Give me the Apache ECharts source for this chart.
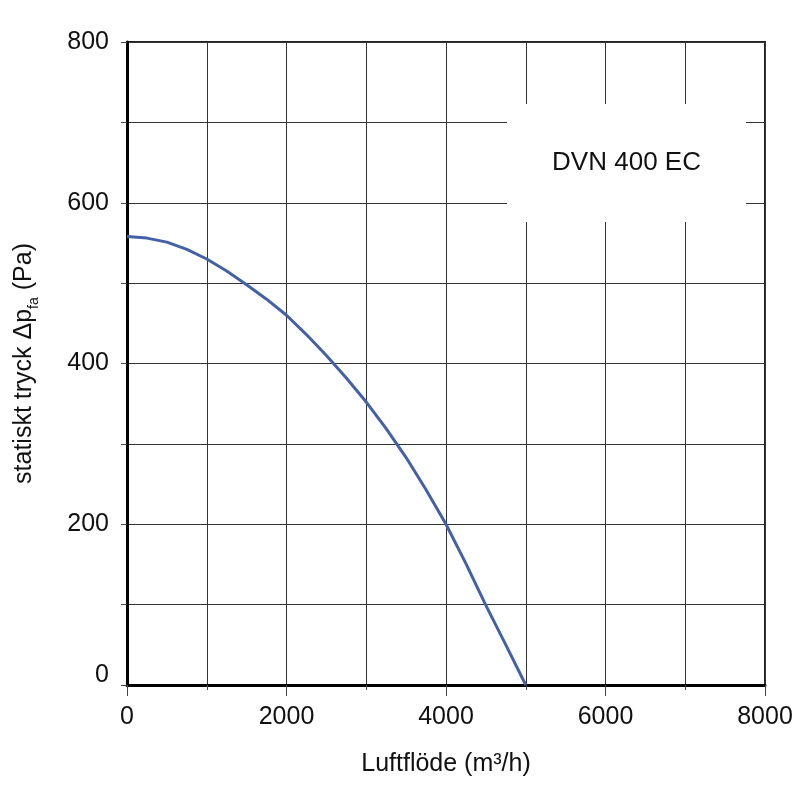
<!DOCTYPE html>
<html>
<head>
    <meta charset="utf-8">
    <style type="text/css">
        *, html, body { margin: 0; padding: 0; }
        html, body, #container { width: 800px; height: 800px; background: #fff; }
    </style>
    <script type="text/javascript" src="https://cdn.jsdelivr.net/npm/echarts@6/dist/echarts.min.js"></script>
</head>
<body>
<div id="container"></div>
<script type="text/javascript">
    // fan curve
    let flow = [0, 250, 500, 750, 1000, 1250, 1500, 1750, 2000, 2250, 2500,
                2750, 3000, 3250, 3500, 3750, 4000, 4250, 4500, 4750, 5000];
    let pressure = [558, 556, 551, 542, 530, 515, 498, 480, 460, 436, 410,
                    382, 352, 319, 283, 243, 200, 151, 99, 50, 0];
    let modelName = "DVN 400 EC";

    let font = "Liberation Sans, Arial, sans-serif";
    let myChart = echarts.init(document.getElementById("container"));

    let option = {
        backgroundColor: "#fff",
        animation: false,
        grid: {
            left: 127, right: 35, top: 42, bottom: 115,
            show: true, borderColor: "#222", borderWidth: 2
        },
        xAxis: {
            type: "value", min: 0, max: 8000, interval: 2000,
            name: "Luftflöde (m³/h)", nameLocation: "middle", nameGap: 67,
            nameTextStyle: { fontFamily: font, fontSize: 25, color: "#111" },
            axisLine: { show: true, onZero: false, lineStyle: { color: "#000", width: 3 } },
            axisTick: { show: true, length: 11, lineStyle: { color: "#444", width: 1 } },
            minorTick: { show: true, splitNumber: 2, length: 5, lineStyle: { color: "#444", width: 1 } },
            axisLabel: {
                margin: 20, fontFamily: font, fontSize: 25, color: "#111",
                formatter: function (v) { return String(v); }
            },
            splitLine: { show: true, lineStyle: { color: "#333", width: 1 } },
            minorSplitLine: { show: true, lineStyle: { color: "#333", width: 1 } }
        },
        yAxis: {
            type: "value", min: 0, max: 800, interval: 100,
            name: "{a|statiskt tryck Δp}{s|fa}{a| (Pa)}", nameLocation: "middle", nameGap: 86,
            nameTextStyle: {
                rich: {
                    a: { fontFamily: font, fontSize: 25, color: "#111", lineHeight: 34 },
                    s: { fontFamily: font, fontSize: 14, color: "#111", lineHeight: 16, verticalAlign: "bottom" }
                }
            },
            axisLine: { show: true, onZero: false, lineStyle: { color: "#000", width: 3 } },
            axisTick: { show: true, length: 6, lineStyle: { color: "#444", width: 1 } },
            axisLabel: {
                margin: 18, fontFamily: font, fontSize: 25, color: "#111",
                formatter: function (v) {
                    if (v === 0) return "{z|0}";
                    return v % 200 === 0 ? String(v) : "";
                },
                rich: { z: { fontFamily: font, fontSize: 25, color: "#111", padding: [0, 0, 20, 0] } }
            },
            splitLine: { show: true, lineStyle: { color: "#333", width: 1 } }
        },
        series: [{
            type: "line",
            data: flow.map(function (f, i) { return [f, pressure[i]]; }),
            smooth: false,
            showSymbol: false,
            lineStyle: { color: "#4461a8", width: 3, join: "round" },
            markArea: {
                silent: true,
                itemStyle: { color: "#fff" },
                label: {
                    show: true, position: "inside", fontFamily: font, fontSize: 26, color: "#111"
                },
                data: [[{ name: modelName, coord: [4765, 576] }, { coord: [7762, 723] }]]
            }
        }]
    };
    myChart.setOption(option);
</script>
</body>
</html>
